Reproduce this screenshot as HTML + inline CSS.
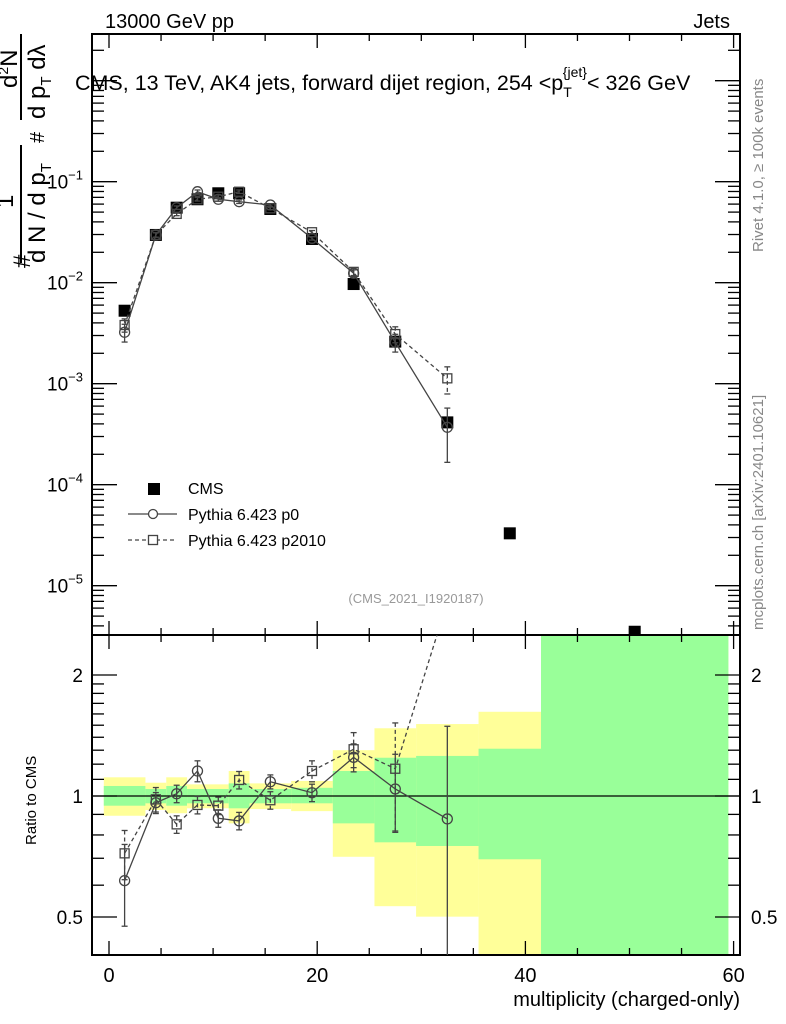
<!DOCTYPE html>
<html><head><meta charset="utf-8"><style>
html,body{margin:0;padding:0;background:#fff;}
svg{display:block;font-family:"Liberation Sans",sans-serif;}
</style></head><body>
<svg id="chart" width="786" height="1024" viewBox="0 0 786 1024" xmlns="http://www.w3.org/2000/svg">
<g id="bands"></g>
<g id="axes"></g>
<g id="series"></g>
<text x="105" y="28" font-size="20">13000 GeV pp</text>
<text x="730" y="28" font-size="20" text-anchor="end">Jets</text>
<text x="75" y="90" font-size="21.5">CMS, 13 TeV, AK4 jets, forward dijet region, 254 &lt;p<tspan font-size="14" dy="7">T</tspan><tspan font-size="14" dx="-9" dy="-20">{jet}</tspan><tspan dy="13">&lt; 326 GeV</tspan></text>
<text x="416" y="603" font-size="13" fill="#999" text-anchor="middle">(CMS_2021_I1920187)</text>
<text transform="translate(763,252) rotate(-90)" font-size="15" fill="#888">Rivet 4.1.0, ≥ 100k events</text>
<text transform="translate(763,630) rotate(-90)" font-size="15" fill="#888">mcplots.cern.ch [arXiv:2401.10621]</text>
<g font-size="24">
<text transform="translate(30,268) rotate(-90)" font-size="24">#</text>
<text transform="translate(13,208) rotate(-90)">1</text>
<line x1="21" y1="263" x2="21" y2="145" stroke="#000" stroke-width="2"/>
<text transform="translate(45,263) rotate(-90)">d N / d p<tspan font-size="15" dy="6">T</tspan></text>
<text transform="translate(44,143) rotate(-90)" font-size="20">#</text>
<text transform="translate(17,88) rotate(-90)">d<tspan font-size="14" dy="-9">2</tspan><tspan dy="9">N</tspan></text>
<line x1="21" y1="120" x2="21" y2="34" stroke="#000" stroke-width="2"/>
<text transform="translate(45,119) rotate(-90)">d p<tspan font-size="15" dy="6">T</tspan><tspan dy="-6"> dλ</tspan></text>
</g>
<text transform="translate(36,845) rotate(-90)" font-size="15">Ratio to CMS</text>
<text x="740" y="1006" font-size="20" text-anchor="end">multiplicity (charged-only)</text>
<g font-size="16">
<rect x="148" y="483" width="12" height="12" fill="#000"/>
<text x="188" y="494">CMS</text>
<line x1="128" y1="514" x2="177" y2="514" stroke="#444" stroke-width="1.3"/>
<circle cx="153" cy="514" r="4.5" fill="#fff" stroke="#444" stroke-width="1.3"/>
<text x="188" y="520">Pythia 6.423 p0</text>
<line x1="128" y1="540" x2="177" y2="540" stroke="#444" stroke-width="1.3" stroke-dasharray="4,3"/>
<rect x="148.5" y="535.5" width="9" height="9" fill="#fff" stroke="#444" stroke-width="1.3"/>
<text x="188" y="546">Pythia 6.423 p2010</text>
</g>
</svg>
<script>
const mult = [1.5,4.5,6.5,8.5,10.5,12.5,15.5,19.5,23.5,27.5,32.5,38.5,50.5];
const cmsVals = [5.28e-3,0.0297,0.0553,0.067,0.0768,0.0768,0.0537,0.0271,0.0097,2.61e-3,4.14e-4,3.3e-5,3.5e-6];
const mcX = [1.5,4.5,6.5,8.5,10.5,12.5,15.5,19.5,23.5,27.5,32.5];
const p0Vals = [3.23e-3,0.0297,0.0553,0.0796,0.067,0.0634,0.0588,0.0275,0.0124,2.57e-3,3.7e-4];
const p0Err = [0.2,0.05,0.04,0.04,0.04,0.04,0.03,0.04,0.08,0.2,0.55];
const p2010Vals = [3.81e-3,0.0297,0.048,0.067,0.071,0.0796,0.0545,0.0316,0.0128,3.1e-3,1.13e-3];
const p2010Err = [0.15,0.05,0.04,0.04,0.04,0.04,0.03,0.04,0.08,0.18,0.3];
const p0Ratio = [0.616,0.962,1.013,1.154,0.880,0.867,1.085,1.019,1.248,1.041,0.877];
const p0RatioErr = [0.23,0.06,0.05,0.06,0.05,0.05,0.04,0.05,0.08,0.22,0.7];
const p2010Ratio = [0.720,0.981,0.850,0.950,0.946,1.096,0.976,1.154,1.307,1.169,3.04];
const p2010RatioErr = [0.14,0.07,0.05,0.05,0.05,0.05,0.05,0.06,0.1,0.3,0.01];
const binEdges = [-0.5,3.5,5.5,7.5,11.5,13.5,17.5,21.5,25.5,29.5,35.5,41.5,59.5];
const yellowUp = [1.113,1.079,1.113,1.069,1.154,1.075,1.09,1.30,1.474,1.51,1.62,3];
const yellowDn = [0.893,0.923,0.906,0.932,0.855,0.928,0.917,0.706,0.532,0.501,0.3,0.3];
const greenUp = [1.059,1.041,1.059,1.041,1.075,1.041,1.048,1.154,1.245,1.258,1.311,3];
const greenDn = [0.946,0.959,0.946,0.959,0.932,0.959,0.959,0.855,0.767,0.751,0.696,0.3];
const xTicks = ['0','20','40','60'];

const NS='http://www.w3.org/2000/svg';
const L=92,R=740,T=34,MB=635,RB=955;
const xS=v=>109+10.41*v;
const yS=v=>181.7-(Math.log10(v)+1)*101;
const rS=v=>796-402*Math.log10(v);
const clampR=y=>Math.max(MB,Math.min(RB,y));
function mk(tag,attrs,parent){const e=document.createElementNS(NS,tag);for(const k in attrs)e.setAttribute(k,attrs[k]);parent.appendChild(e);return e;}
const bands=document.getElementById('bands'),axes=document.getElementById('axes'),ser=document.getElementById('series');

for(let i=0;i<binEdges.length-1;i++){
  const x1=xS(binEdges[i]),x2=xS(binEdges[i+1]);
  const y1=clampR(rS(yellowUp[i])),y2=clampR(rS(yellowDn[i]));
  const b=mk('rect',{x:x1,y:y1,width:x2-x1,height:y2-y1,fill:'#ffff99'},bands);
  
  
  const g1=clampR(rS(greenUp[i])),g2=clampR(rS(greenDn[i]));
  const g=mk('rect',{x:x1,y:g1,width:x2-x1,height:g2-g1,fill:'#99ff99'},bands);
  
  
}
mk('rect',{x:L,y:T,width:R-L,height:MB-T,fill:'none',stroke:'#000','stroke-width':2},axes);
mk('rect',{x:L,y:MB,width:R-L,height:RB-MB,fill:'none',stroke:'#000','stroke-width':2},axes);
mk('line',{x1:L,y1:rS(1),x2:R,y2:rS(1),stroke:'#000','stroke-width':1.3},axes);
for(let v=0;v<=60;v+=5){
  const x=xS(v),len=v%20===0?14:7;
  [[T,1],[MB,-1],[MB,1],[RB,-1]].forEach(([y,d])=>mk('line',{x1:x,y1:y,x2:x,y2:y+d*len,stroke:'#000','stroke-width':1.3},axes));
}
xTicks.forEach(t=>{const e=mk('text',{x:xS(+t),y:982,'font-size':20,'text-anchor':'middle'},axes);e.textContent=t;

});
for(let d=-6;d<=0;d++){for(let m=1;m<10;m++){const v=m*Math.pow(10,d);const y=yS(v);if(y<T||y>MB)continue;const len=m===1?25:12;
mk('line',{x1:L,y1:y,x2:L+len,y2:y,stroke:'#000','stroke-width':1.3},axes);mk('line',{x1:R,y1:y,x2:R-len,y2:y,stroke:'#000','stroke-width':1.3},axes);}}
[-1,-2,-3,-4,-5].forEach(d=>{const e=mk('text',{x:83,y:yS(Math.pow(10,d))+7,'font-size':19,'text-anchor':'end'},axes);
e.innerHTML='10<tspan font-size="13" dy="-9">−'+(-d)+'</tspan>';

});
[0.5,0.6,0.7,0.8,0.9,1,1.1,1.2,1.3,1.4,1.5,1.6,1.7,1.8,1.9,2].forEach(v=>{const y=rS(v);const len=(v===0.5||v===1||v===2)?25:12;
mk('line',{x1:L,y1:y,x2:L+len,y2:y,stroke:'#000','stroke-width':1.3},axes);mk('line',{x1:R,y1:y,x2:R-len,y2:y,stroke:'#000','stroke-width':1.3},axes);});
['2','1','0.5'].forEach(t=>{const y=rS(+t)+7;
const a=mk('text',{x:83,y:y,'font-size':19,'text-anchor':'end'},axes);a.textContent=t;


const b=mk('text',{x:751,y:y,'font-size':19},axes);b.textContent=t;

});

const defs=mk('defs',{},ser);
const c1=mk('clipPath',{id:'cm'},defs);mk('rect',{x:L,y:T,width:R-L,height:MB-T},c1);
const c2=mk('clipPath',{id:'cr'},defs);mk('rect',{x:L,y:MB,width:R-L,height:RB-MB},c2);
const gm=mk('g',{'clip-path':'url(#cm)'},ser),gr=mk('g',{'clip-path':'url(#cr)'},ser);
const col='#444';
function drawMC(g,xs,ys,errs,fy,dash,shape,name){
  const pts=xs.map((x,i)=>xS(x)+','+fy(ys[i])).join(' ');
  const pl=mk('polyline',{points:pts,fill:'none',stroke:col,'stroke-width':1.3,'stroke-dasharray':dash},g);
  
  
  xs.forEach((x,i)=>{const cx=xS(x),cy=fy(ys[i]);const y1=fy(ys[i]*(1+errs[i])),y2=fy(Math.max(1e-9,ys[i]*(1-errs[i])));
    mk('line',{x1:cx,y1:y1,x2:cx,y2:y2,stroke:col,'stroke-width':1.3,'stroke-dasharray':dash},g);
    [y1,y2].forEach(yy=>mk('line',{x1:cx-3,y1:yy,x2:cx+3,y2:yy,stroke:col,'stroke-width':1.3},g));
    let m;
    if(shape==='c')m=mk('circle',{cx:cx,cy:cy,r:5,fill:'none',stroke:col,'stroke-width':1.3},g);
    else m=mk('rect',{x:cx-4.5,y:cy-4.5,width:9,height:9,fill:'none',stroke:col,'stroke-width':1.3},g);
    
    
  });
}
mult.forEach((x,i)=>{const r=mk('rect',{x:xS(x)-6,y:yS(cmsVals[i])-6,width:12,height:12,fill:'#000'},gm);

});
drawMC(gm,mcX,p0Vals,p0Err,yS,'none','c','p0');
drawMC(gm,mcX,p2010Vals,p2010Err,yS,'4,3','s','p2010');
drawMC(gr,mcX,p0Ratio,p0RatioErr,rS,'none','c','p0-ratio');
drawMC(gr,mcX,p2010Ratio,p2010RatioErr,rS,'4,3','s','p2010-ratio');
</script>
</body></html>
